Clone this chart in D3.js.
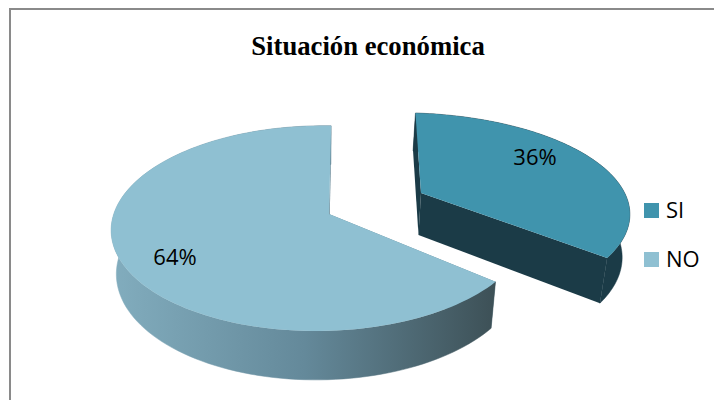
<!DOCTYPE html>
<html><head><meta charset="utf-8">
<script src="https://cdn.jsdelivr.net/npm/d3@7"></script>
<style>html,body{margin:0;padding:0;background:#fff}svg{display:block}</style>
</head><body><svg id="c" width="714" height="400"></svg>
<script>
const title = "Situación económica";
const categories = ["SI", "NO"];
const values = [36, 64];
const topColors = ["#4094ad", "#8fc0d2"];
const sideColors = ["#1b3b47", null];

// apex of each exploded slice and its perspective constants
const apexX = [421, 329], apexY = [193, 214];
const radX = [222, 206], radY = [96, 100.5];
const persV = [0.2, 0.14], persU = [0.09, 0.043];
const shear = [0.03, -0.012];

const svg = d3.select("#c");
const defs = svg.append("defs");
const grad = defs.append("linearGradient").attr("id","noSide").attr("gradientUnits","userSpaceOnUse")
  .attr("x1",111).attr("x2",499).attr("y1",0).attr("y2",0);
grad.append("stop").attr("offset",0).attr("stop-color","#82adbe");
grad.append("stop").attr("offset",0.5).attr("stop-color","#64899a");
grad.append("stop").attr("offset",1).attr("stop-color","#3c4f55");

svg.append("rect").attr("x",10).attr("y",9).attr("width",800).attr("height",500)
  .attr("fill","#fff").attr("stroke","#8a8a8a").attr("stroke-width",2);

function project(i, u, v, z) {
  const w = 1 - persV[i] * v + persU[i] * u;
  let x = apexX[i] + radX[i] * (u + shear[i] * v) / w, y = apexY[i] + radY[i] * v / w;
  if (z) { x += (320 - x) * 0.025; y += 42 + 0.05 * (y - 193); }
  return [x, y];
}
const line = d3.line();
const pie = d3.pie().sort(null).value(d => d);
const arcs = pie(values);

arcs.forEach((a, i) => {
  const angles = d3.range(0, 121).map(j => a.startAngle + (a.endAngle - a.startAngle) * j / 120);
  const rimPt = (t, z) => project(i, Math.sin(t), -Math.cos(t), z);
  const apex = z => project(i, 0, 0, z);
  const fill = sideColors[i] || "url(#noSide)";
  const g = svg.append("g");
  g.append("path").attr("fill", i ? "#5f8696" : fill).attr("d", line([apex(0), rimPt(a.startAngle,0), rimPt(a.startAngle,1), apex(1)]) + "Z");
  g.append("path").attr("fill", fill).attr("d", line([apex(0), rimPt(a.endAngle,0), rimPt(a.endAngle,1), apex(1)]) + "Z");
  g.append("path").attr("fill", fill).attr("stroke", fill).attr("stroke-width", 0.5)
    .attr("d", line(angles.map(t => rimPt(t,0)).concat(angles.slice().reverse().map(t => rimPt(t,1)))) + "Z");
  g.append("path").attr("fill", topColors[i])
    .attr("d", line([apex(0)].concat(angles.map(t => rimPt(t,0)))) + "Z");
});

const labelFont = "'Open Sans', 'Noto Sans', sans-serif";
svg.append("text").attr("x",368).attr("y",54.5).attr("text-anchor","middle")
  .attr("font-family","'Liberation Serif', serif").attr("font-weight","bold").attr("font-size",26.7)
  .attr("fill","#000").text(title);

const labelPos = [[535,165],[175,265]];
values.forEach((v,i) => svg.append("text").attr("x",labelPos[i][0]).attr("y",labelPos[i][1])
  .attr("text-anchor","middle").attr("font-family",labelFont).attr("font-size",22).attr("fill","#000").text(v + "%"));

const legendY = d3.scalePoint().domain(categories).range([203,252]);
categories.forEach((c,i) => {
  svg.append("rect").attr("x",644).attr("y",legendY(c)).attr("width",15).attr("height",15).attr("fill",topColors[i]);
  svg.append("text").attr("x",666).attr("y",legendY(c)+15).attr("font-family",labelFont).attr("font-size",22).attr("fill","#000").text(c);
});
</script></body></html>
